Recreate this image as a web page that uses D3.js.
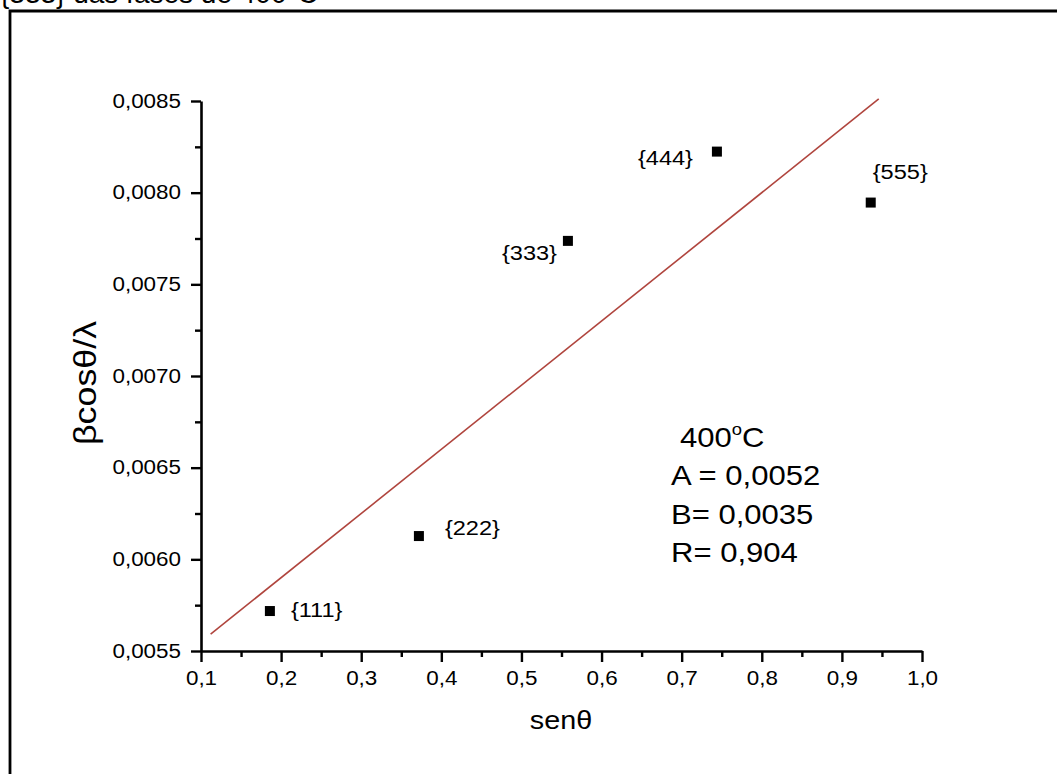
<!DOCTYPE html>
<html>
<head>
<meta charset="utf-8">
<script src="https://cdn.jsdelivr.net/npm/d3@7"></script>
<style>
  html, body { margin: 0; padding: 0; background: #fff; }
  svg { display: block; font-family: "Liberation Sans", Arial, sans-serif; }
</style>
</head>
<body>
<svg id="chart" width="1057" height="774"></svg>
<script>
// ---- data ----
const labels = ["{111}", "{222}", "{333}", "{444}", "{555}"];
const senTheta = [0.186, 0.372, 0.558, 0.744, 0.936];
const betaCos = [0.005718, 0.006127, 0.007737, 0.008224, 0.007946];
const fitA = [0.0052];
const fitB = [0.0035];
const fitRange = [0.112, 0.946];
const xTicks = [0.1, 0.2, 0.3, 0.4, 0.5, 0.6, 0.7, 0.8, 0.9, 1.0];
const xTickLabels = ["0,1", "0,2", "0,3", "0,4", "0,5", "0,6", "0,7", "0,8", "0,9", "1,0"];
const yTicks = [0.0055, 0.0060, 0.0065, 0.0070, 0.0075, 0.0080, 0.0085];
const yTickLabels = ["0,0055", "0,0060", "0,0065", "0,0070", "0,0075", "0,0080", "0,0085"];
const annotation = ["A = 0,0052", "B= 0,0035", "R= 0,904"];

const SX = 1.15; // horizontal stretch of the original picture
const svg = d3.select("#chart");

// outer frame (partially clipped)
svg.append("path")
  .attr("d", "M10,774 L10,11 L1060,11")
  .attr("fill", "none").attr("stroke", "#000").attr("stroke-width", 2.8);

// clipped caption at very top (only its lower edge shows)
svg.append("text").attr("x", 0).attr("y", 3)
  .attr("font-size", 28).attr("fill", "#000")
  .text("{333} das fases de 400°C");

const x = d3.scaleLinear().domain([0.1, 1.0]).range([201, 922]);
const y = d3.scaleLinear().domain([0.0055, 0.0085]).range([651, 101]);

// minor ticks
const xMinor = xTicks.slice(0, -1).map((d, i) => (d + xTicks[i + 1]) / 2);
const yMinor = yTicks.slice(0, -1).map((d, i) => (d + yTicks[i + 1]) / 2);

const gx = svg.append("g").attr("transform", `translate(0,${y.range()[0]})`);
gx.call(d3.axisBottom(x).tickValues(xTicks).tickFormat((d, i) => xTickLabels[i]).tickSize(11).tickSizeOuter(0).tickPadding(9));
gx.append("g").call(d3.axisBottom(x).tickValues(xMinor).tickFormat("").tickSize(6).tickSizeOuter(0))
  .select(".domain").remove();

const gy = svg.append("g").attr("transform", `translate(${x.range()[0]},0)`);
gy.call(d3.axisLeft(y).tickValues(yTicks).tickFormat((d, i) => yTickLabels[i]).tickSize(10).tickSizeOuter(0).tickPadding(10));
gy.append("g").call(d3.axisLeft(y).tickValues(yMinor).tickFormat("").tickSize(6).tickSizeOuter(0))
  .select(".domain").remove();

svg.selectAll(".domain").attr("stroke", "#000").attr("stroke-width", 2.6);
svg.selectAll(".tick line").attr("stroke", "#000").attr("stroke-width", 2.4);
svg.selectAll(".tick text").attr("font-size", 19.5).attr("fill", "#000")
  .attr("font-family", "'Liberation Sans', Arial, sans-serif");
gx.selectAll(".tick text").attr("dy", "0.71em");
gy.selectAll(".tick text").each(function () {
  const t = d3.select(this);
  t.attr("transform", `scale(${SX},1)`).attr("x", (+t.attr("x")) / SX);
});
gx.selectAll(".tick text").attr("transform", `scale(${SX},1)`);

// fit line
svg.append("line")
  .attr("x1", x(fitRange[0])).attr("y1", y(fitA[0] + fitB[0] * fitRange[0]))
  .attr("x2", x(fitRange[1])).attr("y2", y(fitA[0] + fitB[0] * fitRange[1]))
  .attr("stroke", "#b0453e").attr("stroke-width", 1.6);

// points
const S = 10;
svg.selectAll("rect.pt").data(senTheta).join("rect").attr("class", "pt")
  .attr("x", d => x(d) - S / 2)
  .attr("y", (d, i) => y(betaCos[i]) - S / 2)
  .attr("width", S).attr("height", S).attr("fill", "#000");

// point labels (offsets in px)
const labelOff = [[21, 6], [26, -1], [-66, 19], [-79, 13], [2, -24]];
labels.forEach((l, i) => {
  svg.append("text")
    .attr("transform", `translate(${x(senTheta[i]) + labelOff[i][0]},${y(betaCos[i]) + labelOff[i][1]}) scale(${SX},1)`)
    .attr("font-size", 20.5).attr("fill", "#000").text(l);
});

// annotation
const ann = svg.append("g").attr("font-size", 27).attr("fill", "#000");
const t0 = ann.append("text").attr("transform", `translate(680,447) scale(${SX},1)`);
t0.append("tspan").text("400");
t0.append("tspan").attr("font-size", 16).attr("dy", -12).text("o");
t0.append("tspan").attr("dy", 12).text("C");
annotation.forEach((s, i) => {
  ann.append("text").attr("transform", `translate(671,${485 + i * 38.5}) scale(${SX},1)`).text(s);
});

// axis titles
svg.append("text")
  .attr("transform", `translate(561,729) scale(${SX},1)`)
  .attr("text-anchor", "middle").attr("font-size", 25).attr("fill", "#000")
  .text("senθ");
svg.append("text")
  .attr("transform", `translate(96,383) rotate(-90) scale(1,${SX})`)
  .attr("text-anchor", "middle").attr("font-size", 27).attr("fill", "#000")
  .attr("textLength", 124).attr("lengthAdjust", "spacingAndGlyphs")
  .text("βcosθ/λ");
</script>
</body>
</html>
